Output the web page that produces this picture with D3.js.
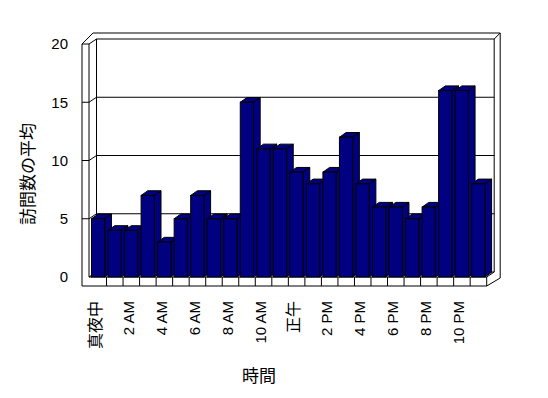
<!DOCTYPE html>
<html>
<head>
<meta charset="utf-8">
<script src="https://d3js.org/d3.v7.min.js"></script>
<style>
  body { margin: 0; background: #fff; }
  text { font-family: "Liberation Sans", Arial, "Noto Sans CJK JP", sans-serif; fill: #000; }
</style>
</head>
<body>
<svg id="chart" width="548" height="398"></svg>
<script>
// hours of the day (every second one is labelled)
var categories = ["真夜中","1 AM","2 AM","3 AM","4 AM","5 AM","6 AM","7 AM","8 AM","9 AM","10 AM","11 AM",
                  "正午","1 PM","2 PM","3 PM","4 PM","5 PM","6 PM","7 PM","8 PM","9 PM","10 PM","11 PM"];
// average visits per hour
var values = [5,4,4,7,3,5,7,5,5,15,11,11,9,8,9,12,8,6,6,5,6,16,16,8];
var yTicks = [0,5,10,15,20];
var yTitle = "訪問数の平均";
var xTitle = "時間";

var svg = d3.select("#chart");

var x = d3.scaleBand().domain(categories).range([90, 486.7]);
var y = d3.scaleLinear().domain([0, 20]).range([277, 44]);

// depth offsets (oblique projection)
var wall = {dx: 7.5, dy: -5};
var bar = {dx: 6.7, dy: -4.7};

var xLeft = x.range()[0] - 1, xRight = x.range()[1];
var yFloor = y(0), yTop = y(20);
var outerL = xLeft - 7, floorB = yFloor + 9, outerT = yTop + wall.dy - 6, outerR = xRight + wall.dx + 6;

function pt(a, b) { return a + "," + b; }

var g = svg.append("g")
  .attr("fill", "none")
  .attr("stroke", "#000")
  .attr("stroke-width", 1);

// outline of walls and floor
g.append("path")
  .attr("fill", "#fff")
  .attr("d", "M" + pt(outerL, floorB) + " L" + pt(outerL, yTop) + " L" + pt(outerL + 5, yTop - 5) +
    " L" + pt(outerL + 11, outerT) + " L" + pt(outerR, outerT) + " L" + pt(outerR, yFloor + 1) +
    " L" + pt(xRight, floorB) + " Z");

// back wall
g.append("path")
  .attr("d", "M" + pt(xLeft + wall.dx, yFloor + wall.dy) + " L" + pt(xLeft + wall.dx, yTop + wall.dy) +
    " L" + pt(xRight + wall.dx, yTop + wall.dy) + " L" + pt(xRight + wall.dx, yFloor + wall.dy) +
    " L" + pt(xLeft + wall.dx, yFloor + wall.dy));
g.append("path")
  .attr("d", "M" + pt(xRight + wall.dx, yTop + wall.dy) + " L" + pt(outerR, outerT));

// left wall
g.append("path")
  .attr("d", "M" + pt(xLeft, yFloor) + " L" + pt(xLeft, yTop) + " M" + pt(outerL, yTop) + " L" + pt(xLeft, yTop) +
    " L" + pt(xLeft + wall.dx, yTop + wall.dy));

// gridlines and ticks
g.selectAll(".grid")
  .data(yTicks.filter(function(d) { return d > 0 && d < 20; }))
  .enter().append("path")
  .attr("d", function(d) {
    return "M" + pt(outerL, y(d)) + " L" + pt(xLeft, y(d)) + " L" + pt(xLeft + wall.dx, y(d) + wall.dy) +
      " L" + pt(xRight + wall.dx, y(d) + wall.dy);
  });

// floor
g.append("path")
  .attr("d", "M" + pt(xLeft, yFloor) + " L" + pt(xLeft + wall.dx, yFloor + wall.dy) +
    " M" + pt(xLeft, yFloor) + " L" + pt(xRight, yFloor) + " L" + pt(xRight, floorB) +
    " M" + pt(xRight, yFloor) + " L" + pt(xRight + wall.dx, yFloor + wall.dy));
g.selectAll(".div")
  .data(categories.slice(1))
  .enter().append("line")
  .attr("x1", function(d) { return x(d); })
  .attr("x2", function(d) { return x(d); })
  .attr("y1", yFloor)
  .attr("y2", floorB);

// 3d bars, left to right
var bw = x.bandwidth() * 0.8;
var bars = svg.append("g")
  .attr("fill", "#000080")
  .attr("stroke", "#000")
  .attr("stroke-width", 1);

categories.forEach(function(c, i) {
  var x0 = x(c) + 1.5, x1 = x0 + bw, yt = y(values[i]);
  var b = bars.append("g");
  // side face
  b.append("path").attr("d", "M" + pt(x1, yFloor) + " L" + pt(x1, yt) + " L" + pt(x1 + bar.dx, yt + bar.dy) +
    " L" + pt(x1 + bar.dx, yFloor + bar.dy) + " Z");
  // top face
  b.append("path").attr("d", "M" + pt(x0, yt) + " L" + pt(x0 + bar.dx, yt + bar.dy) +
    " L" + pt(x1 + bar.dx, yt + bar.dy) + " L" + pt(x1, yt) + " Z");
  // front face
  b.append("rect").attr("x", x0).attr("y", yt).attr("width", bw).attr("height", yFloor - yt);
});

// y axis labels
var yAxis = svg.append("g")
  .attr("transform", "translate(" + outerL + ",0)")
  .call(d3.axisLeft(y).tickValues(yTicks).tickSize(0).tickPadding(14));
yAxis.select(".domain").remove();
yAxis.selectAll("text").attr("font-size", 15);

// x labels, rotated
svg.append("g").selectAll("text")
  .data(categories.filter(function(d, i) { return i % 2 === 0; }))
  .enter().append("text")
  .attr("transform", function(d) { return "translate(" + (x(d) + x.bandwidth() / 2 - 3) + ",301) rotate(-90)"; })
  .attr("text-anchor", "end")
  .attr("dy", "0.35em")
  .attr("font-size", function(d) { return /[A-Z]/.test(d) ? 15 : 16; })
  .text(function(d) { return d; });

// titles
svg.append("text")
  .attr("transform", "translate(28,174) rotate(-90)")
  .attr("text-anchor", "middle")
  .attr("dy", "0.35em")
  .attr("font-size", 17)
  .text(yTitle);

svg.append("text")
  .attr("x", 259)
  .attr("y", 376)
  .attr("text-anchor", "middle")
  .attr("dy", "0.35em")
  .attr("font-size", 17)
  .text(xTitle);
</script>
</body>
</html>
